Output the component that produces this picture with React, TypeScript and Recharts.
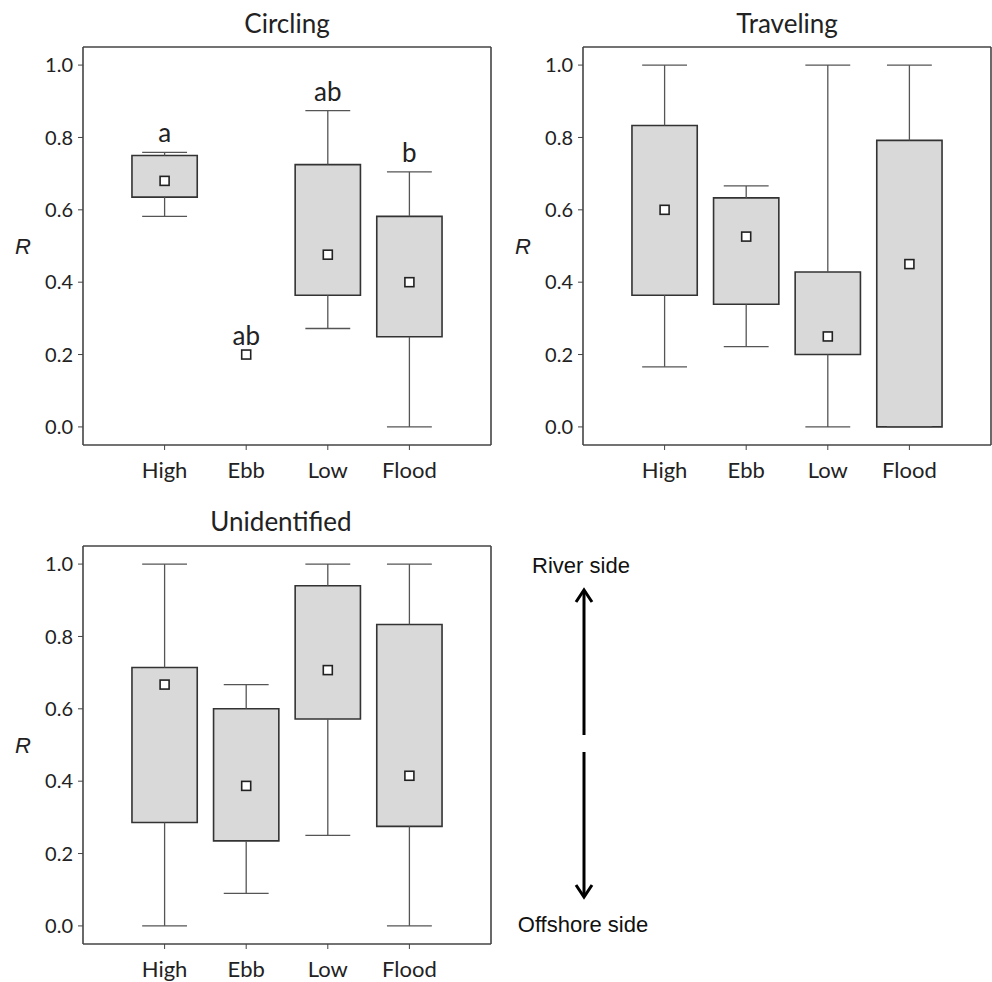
import React from "react";
import {
  ComposedChart,
  XAxis,
  YAxis,
  ReferenceArea,
  ReferenceLine,
  ReferenceDot,
  Scatter,
} from "recharts";

const phases = ["High", "Ebb", "Low", "Flood"];
const phasePos = [1, 2, 3, 4];
const yTicks = [0, 0.2, 0.4, 0.6, 0.8, 1.0];

// Circling
const circlingMin = [0.582, null, 0.272, 0];
const circlingQ1 = [0.635, null, 0.364, 0.249];
const circlingMedian = [0.68, 0.2, 0.476, 0.4];
const circlingQ3 = [0.75, null, 0.725, 0.582];
const circlingMax = [0.759, null, 0.874, 0.705];
const circlingLetters = ["a", "ab", "ab", "b"];

// Traveling
const travelingMin = [0.166, 0.222, 0, 0];
const travelingQ1 = [0.364, 0.339, 0.2, 0];
const travelingMedian = [0.6, 0.526, 0.25, 0.45];
const travelingQ3 = [0.833, 0.633, 0.428, 0.792];
const travelingMax = [1.0, 0.666, 1.0, 1.0];

// Unidentified
const unidentifiedMin = [0, 0.09, 0.25, 0];
const unidentifiedQ1 = [0.286, 0.235, 0.572, 0.275];
const unidentifiedMedian = [0.667, 0.387, 0.707, 0.415];
const unidentifiedQ3 = [0.714, 0.6, 0.94, 0.833];
const unidentifiedMax = [1.0, 0.667, 1.0, 1.0];

const FONT = "Lato, 'Open Sans', sans-serif";
const FRAME = "#444";
const BOX_HALF = 0.4;
const CAP_HALF = 0.275;

type Vals = (number | null)[];

function BoxPanel(props: {
  left: number;
  top: number;
  lo: Vals;
  q1: Vals;
  med: Vals;
  q3: Vals;
  hi: Vals;
  letters?: string[];
}) {
  const { left, top, lo, q1, med, q3, hi, letters } = props;
  const medians = phasePos.map((x, i) => ({ x, y: med[i] }));
  const xTickStyle = { fontSize: 22, fill: "#222", fontFamily: FONT };
  const yTickStyle = { fontSize: 20, fill: "#222", fontFamily: FONT };
  const lineStyle = { stroke: "#555", strokeWidth: 1.3 };

  return (
    <div style={{ position: "absolute", left, top }}>
      <ComposedChart
        width={500}
        height={500}
        margin={{ top: 47, right: 9, bottom: 20, left: 33 }}
      >
        <XAxis
          type="number"
          dataKey="x"
          domain={[0, 5]}
          ticks={[1, 2, 3, 4]}
          interval={0}
          tickFormatter={(v: number) => phases[v - 1]}
          height={35}
          tickSize={5}
          tickMargin={12}
          tick={xTickStyle}
          axisLine={{ stroke: FRAME, strokeWidth: 1.6 }}
          tickLine={{ stroke: FRAME }}
        />
        <XAxis
          xAxisId="top"
          orientation="top"
          mirror
          type="number"
          domain={[0, 5]}
          ticks={[1, 2, 3, 4]}
          interval={0}
          tickFormatter={() => ""}
          tickSize={4}
          axisLine={{ stroke: FRAME, strokeWidth: 1.6 }}
          tickLine={{ stroke: FRAME }}
        />
        <YAxis
          type="number"
          domain={[-0.05, 1.05]}
          ticks={yTicks}
          interval={0}
          tickFormatter={(v: number) => v.toFixed(1)}
          width={50}
          tickSize={5}
          tickMargin={5}
          tick={yTickStyle}
          axisLine={{ stroke: FRAME, strokeWidth: 1.6 }}
          tickLine={{ stroke: FRAME }}
          label={{
            value: "R",
            position: "left",
            offset: 2,
            style: {
              fontSize: 22,
              fontStyle: "italic",
              fill: "#222",
              fontFamily: "'Liberation Sans', Arial, sans-serif",
            },
          }}
        />
        <YAxis
          yAxisId="right"
          orientation="right"
          mirror
          type="number"
          domain={[-0.05, 1.05]}
          ticks={yTicks}
          interval={0}
          tickFormatter={() => ""}
          tickSize={4}
          axisLine={{ stroke: FRAME, strokeWidth: 1.6 }}
          tickLine={{ stroke: FRAME }}
        />

        {phasePos.map((x, i) =>
          q1[i] != null && q3[i] != null ? (
            <ReferenceArea
              key={`box-${i}`}
              x1={x - BOX_HALF}
              x2={x + BOX_HALF}
              y1={q1[i] as number}
              y2={q3[i] as number}
              fill="#d9d9d9"
              fillOpacity={1}
              stroke="#333"
              strokeWidth={1.6}
            />
          ) : null
        )}

        {phasePos.map((x, i) =>
          hi[i] != null && q3[i] != null && (hi[i] as number) > (q3[i] as number) ? (
            <ReferenceLine
              key={`wu-${i}`}
              segment={[
                { x, y: q3[i] as number },
                { x, y: hi[i] as number },
              ]}
              {...lineStyle}
            />
          ) : null
        )}
        {phasePos.map((x, i) =>
          lo[i] != null && q1[i] != null && (lo[i] as number) < (q1[i] as number) ? (
            <ReferenceLine
              key={`wl-${i}`}
              segment={[
                { x, y: lo[i] as number },
                { x, y: q1[i] as number },
              ]}
              {...lineStyle}
            />
          ) : null
        )}
        {phasePos.map((x, i) =>
          hi[i] != null ? (
            <ReferenceLine
              key={`cu-${i}`}
              segment={[
                { x: x - CAP_HALF, y: hi[i] as number },
                { x: x + CAP_HALF, y: hi[i] as number },
              ]}
              {...lineStyle}
            />
          ) : null
        )}
        {phasePos.map((x, i) =>
          lo[i] != null ? (
            <ReferenceLine
              key={`cl-${i}`}
              segment={[
                { x: x - CAP_HALF, y: lo[i] as number },
                { x: x + CAP_HALF, y: lo[i] as number },
              ]}
              {...lineStyle}
            />
          ) : null
        )}

        <Scatter
          data={medians}
          dataKey="y"
          isAnimationActive={false}
          shape={(p: any) => (
            <rect
              x={p.cx - 4.5}
              y={p.cy - 4.5}
              width={9}
              height={9}
              fill="#fff"
              stroke="#222"
              strokeWidth={1.6}
            />
          )}
        />

        {letters &&
          phasePos.map((x, i) => (
            <ReferenceDot
              key={`lt-${i}`}
              x={x}
              y={(hi[i] ?? med[i]) as number}
              r={0}
              fill="none"
              stroke="none"
              label={{
                value: letters[i],
                position: "top",
                offset: 10,
                style: { fontSize: 26, fill: "#222", fontFamily: FONT },
              }}
            />
          ))}
      </ComposedChart>
    </div>
  );
}

export default function App() {
  const titleStyle = { fontSize: 26, fill: "#222", fontFamily: FONT };
  const noteStyle = {
    fontSize: 22,
    fill: "#111",
    fontFamily: "'Liberation Sans', Arial, sans-serif",
  };
  return (
    <div
      style={{
        position: "absolute",
        left: 0,
        top: 0,
        width: 992,
        height: 982,
        overflow: "hidden",
        background: "#fff",
      }}
    >
      <BoxPanel
        left={0}
        top={0}
        lo={circlingMin}
        q1={circlingQ1}
        med={circlingMedian}
        q3={circlingQ3}
        hi={circlingMax}
        letters={circlingLetters}
      />
      <BoxPanel
        left={500}
        top={0}
        lo={travelingMin}
        q1={travelingQ1}
        med={travelingMedian}
        q3={travelingQ3}
        hi={travelingMax}
      />
      <BoxPanel
        left={0}
        top={499}
        lo={unidentifiedMin}
        q1={unidentifiedQ1}
        med={unidentifiedMedian}
        q3={unidentifiedQ3}
        hi={unidentifiedMax}
      />
      <svg
        width={992}
        height={982}
        style={{ position: "absolute", left: 0, top: 0, pointerEvents: "none" }}
      >
        <text x={287} y={33} textAnchor="middle" style={titleStyle}>
          Circling
        </text>
        <text x={787} y={33} textAnchor="middle" style={titleStyle}>
          Traveling
        </text>
        <text x={281} y={531} textAnchor="middle" style={titleStyle}>
          Unidentified
        </text>

        <text x={581} y={573} textAnchor="middle" style={noteStyle}>
          River side
        </text>
        <text x={583} y={932} textAnchor="middle" style={noteStyle}>
          Offshore side
        </text>
        <g stroke="#000" strokeWidth={3} fill="none" strokeLinecap="butt">
          <line x1={584} y1={591} x2={584} y2={735} />
          <polyline points="576,602 584,590 592,602" />
          <line x1={584} y1={752} x2={584} y2={896} />
          <polyline points="576,885 584,897 592,885" />
        </g>
      </svg>
    </div>
  );
}
